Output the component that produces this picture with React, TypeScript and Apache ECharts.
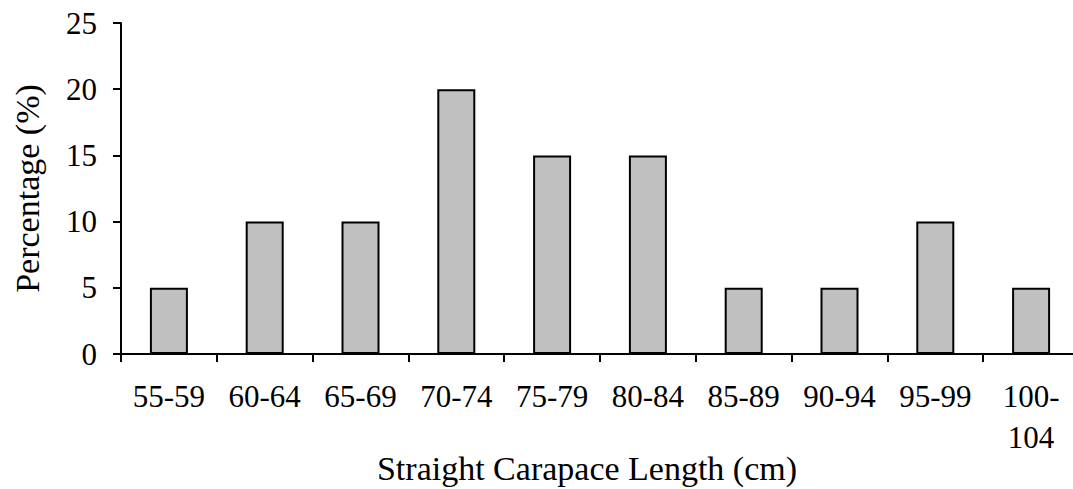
import React, { useEffect, useRef } from "react";
import * as echarts from "echarts";

const categories = ["55-59", "60-64", "65-69", "70-74", "75-79", "80-84", "85-89", "90-94", "95-99", "100-\n104"];
const percentages = [5, 10, 10, 20, 15, 15, 5, 5, 10, 5];
const yMin = 0;
const yMax = 25;
const yInterval = 5;
const xTitle = "Straight Carapace Length (cm)";
const yTitle = "Percentage (%)";

const FONT = '"Liberation Serif", "Times New Roman", serif';

export default function App() {
  const ref = useRef<HTMLDivElement>(null);
  useEffect(() => {
    if (!ref.current) return;
    const chart = echarts.init(ref.current, undefined, { renderer: "svg" });
    chart.setOption({
      animation: false,
      backgroundColor: "#ffffff",
      grid: {
        left: 121,
        top: 23,
        width: 958,
        height: 331,
        containLabel: false,
        outerBoundsMode: "none",
      },
      xAxis: {
        type: "category",
        data: categories,
        name: xTitle,
        nameLocation: "middle",
        nameGap: 97,
        nameMoveOverlap: false,
        nameTextStyle: { fontFamily: FONT, fontSize: 34, color: "#000", padding: [0, 26, 0, 0] },
        axisLine: { lineStyle: { color: "#000", width: 2 } },
        axisTick: { show: true, alignWithLabel: false, length: 8, lineStyle: { color: "#000", width: 2 } },
        axisLabel: {
          fontFamily: FONT,
          fontSize: 31,
          color: "#000",
          margin: 22,
          lineHeight: 41,
          interval: 0,
        },
      },
      yAxis: {
        type: "value",
        min: yMin,
        max: yMax,
        interval: yInterval,
        name: yTitle,
        nameLocation: "middle",
        nameGap: 77,
        nameRotate: 90,
        nameMoveOverlap: false,
        nameTextStyle: { fontFamily: FONT, fontSize: 34, color: "#000" },
        axisLine: { show: true, lineStyle: { color: "#000", width: 2 } },
        axisTick: { show: true, length: 8, lineStyle: { color: "#000", width: 2 } },
        splitLine: { show: false },
        axisLabel: { fontFamily: FONT, fontSize: 31, color: "#000", margin: 24 },
      },
      series: [
        {
          type: "bar",
          data: percentages,
          barWidth: 38,
          itemStyle: { color: "#c0c0c0", borderColor: "#000", borderWidth: 2 },
        },
      ],
    });
    return () => chart.dispose();
  }, []);
  return (
    <div
      ref={ref}
      style={{ position: "fixed", left: 0, top: 0, width: 1073, height: 489, background: "#fff" }}
    />
  );
}
